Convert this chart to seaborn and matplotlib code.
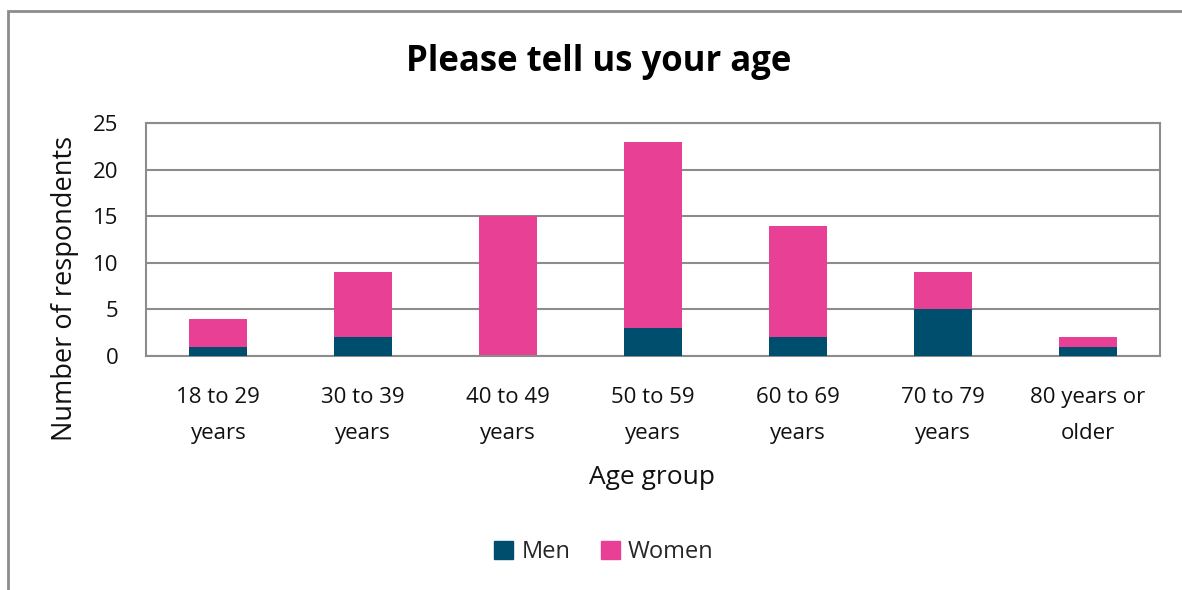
import matplotlib
matplotlib.use("Agg")
import matplotlib.pyplot as plt
import seaborn as sns
import pandas as pd
from matplotlib.patches import Rectangle

categories = ["18 to 29\nyears", "30 to 39\nyears", "40 to 49\nyears", "50 to 59\nyears",
              "60 to 69\nyears", "70 to 79\nyears", "80 years or\nolder"]
men = [1, 2, 0, 3, 2, 5, 1]
women = [3, 7, 15, 20, 12, 4, 1]
yticks = [0, 5, 10, 15, 20, 25]

men_color = "#004E6E"
women_color = "#E84095"

sns.set_theme(style="white")
plt.rcParams['font.family'] = ['Open Sans', 'DejaVu Sans']

totals = [m + w for m, w in zip(men, women)]
df_tot = pd.DataFrame({"cat": categories, "val": totals})
df_men = pd.DataFrame({"cat": categories, "val": men})

fig = plt.figure(figsize=(11.82, 5.9), dpi=100)
ax = fig.add_axes([146/1182, 1-356/590, (1160-146)/1182, (356-123)/590])

sns.barplot(data=df_tot, x="cat", y="val", color=women_color, width=0.4, ax=ax,
            saturation=1, edgecolor="none", zorder=2)
sns.barplot(data=df_men, x="cat", y="val", color=men_color, width=0.4, ax=ax,
            saturation=1, edgecolor="none", zorder=3)

ax.set_ylim(0, 25)
ax.set_xlim(-0.5, 6.5)
ax.set_yticks(yticks)
ax.set_yticklabels([str(t) for t in yticks], fontsize=16, color="#111111")
ax.set_xticks(range(len(categories)))
ax.set_xticklabels(categories, fontsize=16, color="#111111", linespacing=1.95)
ax.tick_params(axis="x", length=0, pad=22)
ax.tick_params(axis="y", length=0, pad=20)
ax.yaxis.grid(True, color="#8c8c8c", linewidth=1.5, zorder=0)
ax.set_axisbelow(True)
for s in ax.spines.values():
    s.set_visible(True)
    s.set_color("#8c8c8c")
    s.set_linewidth(1.5)
ax.set_xlabel("")
ax.set_ylabel("")

fig.text(652/1182, 1-477/590, "Age group", ha="center", va="center", fontsize=19, color="#111111")
fig.text(65/1182, 1-288/590, "Number of respondents", ha="center", va="center",
         rotation=90, fontsize=19.5, color="#111111")
fig.text(599/1182, 1-62/590, "Please tell us your age", ha="center", va="center",
         fontsize=25, fontweight="bold", color="#000000")

handles = [Rectangle((0, 0), 1, 1, color=men_color), Rectangle((0, 0), 1, 1, color=women_color)]
fig.legend(handles, ["Men", "Women"], loc="center", bbox_to_anchor=(604/1182, 1-552/590),
           ncol=2, frameon=False, fontsize=17, handlelength=0.8, handleheight=0.8,
           handletextpad=0.35, columnspacing=1.3)

# outer frame
fig.patches.append(Rectangle((8/1182, -0.1), 1.2, 1-11/590+0.1, transform=fig.transFigure,
                             fill=False, edgecolor="#8c8c8c", linewidth=2))

fig.savefig("out.png", dpi=100)
